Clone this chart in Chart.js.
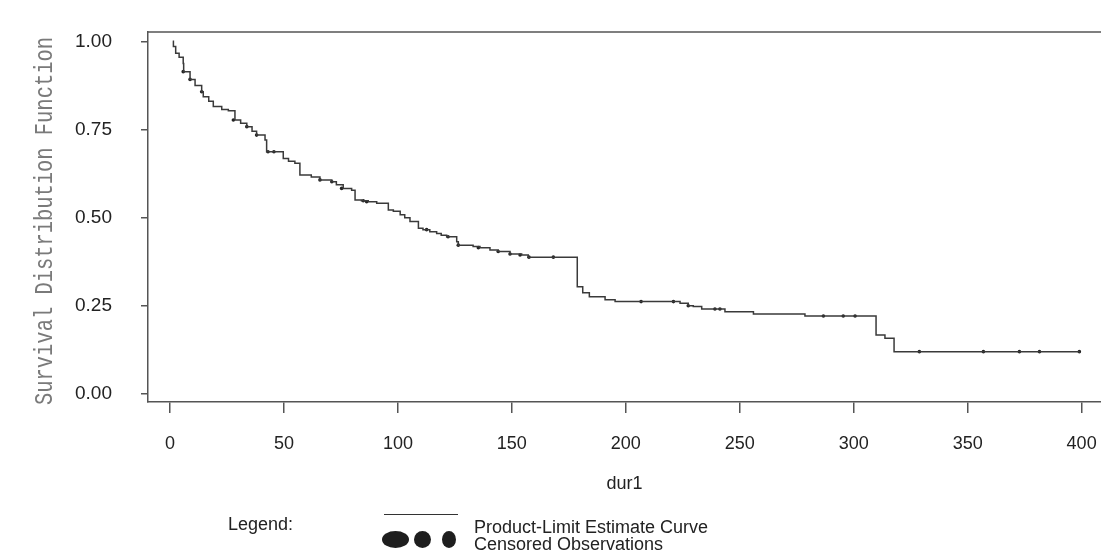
<!DOCTYPE html>
<html>
<head>
<meta charset="utf-8">
<title>Survival Distribution Function</title>
<script src="https://cdn.jsdelivr.net/npm/chart.js@4.4.1/dist/chart.umd.min.js"></script>
<style>
  html, body { margin: 0; padding: 0; background: #fff; }
  #wrap { position: relative; width: 1101px; height: 558px; overflow: hidden; }
  #km-chart { position: absolute; left: 0; top: 0; }
  .leg { position: absolute; font-family: "Liberation Sans", Arial, sans-serif; font-size: 18px; line-height: 18px; color: #222; white-space: nowrap; }
  .dot { position: absolute; background: #1e1e1e; border-radius: 50%; }
</style>
</head>
<body>
<div id="wrap">
  <canvas id="km-chart" width="1101" height="558"></canvas>

  <!-- legenda sotto il grafico -->
  <div class="leg" style="left:228px; top:515px;">Legend:</div>
  <div style="position:absolute; left:384px; top:514px; width:74px; border-top:1.5px solid #333;"></div>
  <div class="dot" style="left:382px; top:531px; width:27px; height:17px;"></div>
  <div class="dot" style="left:414px; top:531px; width:17px; height:17px;"></div>
  <div class="dot" style="left:442px; top:531px; width:14px; height:17px;"></div>
  <div class="leg" style="left:474px; top:518px;">Product-Limit Estimate Curve</div>
  <div class="leg" style="left:474px; top:535px;">Censored Observations</div>
</div>

<script>
// durata (dur1) e stima product-limit: a ogni tempo la curva scende al valore
var durations = [1.2, 1.5, 2.5, 4, 5.8, 6, 8.8, 11, 13.9, 14.6, 17, 19, 22.7, 25.6, 28.5, 31, 33.7, 36, 38, 41.7,
  42.4, 49.7, 52, 54.8, 57, 62, 65.8, 71, 73, 76, 79.7, 81.2, 84, 87, 90.7, 95.8, 98, 101, 103, 105.3, 109, 111,
  114, 117, 119, 121.4, 125.8, 126.5, 133, 136, 140.4, 144, 149.2, 154.3, 157.2, 178.7, 181.1, 184, 190.9, 195.3,
  223.8, 227.4, 229.6, 233.3, 243.5, 256, 278.6, 309.8, 313.7, 317.7, 399.3];
var survival = [1.0, 0.985, 0.966, 0.955, 0.937, 0.914, 0.892, 0.875, 0.857, 0.843, 0.83, 0.815, 0.807, 0.803, 0.777, 0.768, 0.758, 0.745, 0.734, 0.72,
  0.687, 0.668, 0.66, 0.654, 0.621, 0.615, 0.607, 0.602, 0.593, 0.583, 0.578, 0.55, 0.548, 0.545, 0.541, 0.522, 0.518, 0.508, 0.5, 0.489, 0.47, 0.466,
  0.46, 0.455, 0.45, 0.446, 0.432, 0.422, 0.418, 0.415, 0.408, 0.404, 0.397, 0.394, 0.388, 0.304, 0.287, 0.276, 0.267, 0.262,
  0.257, 0.25, 0.248, 0.241, 0.233, 0.227, 0.221, 0.167, 0.158, 0.12, 0.12];

// osservazioni censurate
var censoredTimes = [5.8, 8.8, 13.9, 27.8, 33.7, 38, 43, 45.6, 65.8, 71, 75.3, 84.8, 86.3, 112.6, 122, 126.5, 135.3, 144,
  149.2, 153.6, 157.5, 168.2, 206.7, 220.9, 227.4, 239.1, 241.3, 286.7, 295.4, 300.6, 328.8, 356.9, 372.7, 381.5, 399];
var censoredSurvival = [0.914, 0.892, 0.857, 0.777, 0.758, 0.734, 0.687, 0.687, 0.607, 0.602, 0.583, 0.548, 0.545, 0.466, 0.446, 0.422, 0.415, 0.404,
  0.397, 0.394, 0.388, 0.388, 0.262, 0.262, 0.25, 0.241, 0.241, 0.221, 0.221, 0.221, 0.12, 0.12, 0.12, 0.12, 0.12];

var xTicks = [0, 50, 100, 150, 200, 250, 300, 350, 400];
var yTicks = [0, 0.25, 0.5, 0.75, 1];

var curvePoints = [];
for (var i = 0; i < durations.length; i++) {
  curvePoints.push({ x: durations[i], y: survival[i] });
}
var censoredPoints = [];
for (var j = 0; j < censoredTimes.length; j++) {
  censoredPoints.push({ x: censoredTimes[j], y: censoredSurvival[j] });
}

var axisColor = '#555';
var labelFont = { family: "'Liberation Sans', Arial, sans-serif", size: 18 };

// bordo superiore del riquadro + titolo asse y (font stretto)
var frameAndTitle = {
  id: 'frameAndTitle',
  afterDraw: function (chart) {
    var c = chart.ctx;
    var a = chart.chartArea;
    c.save();
    c.strokeStyle = axisColor;
    c.lineWidth = 1.5;
    c.beginPath();
    c.moveTo(a.left, a.top);
    c.lineTo(a.right, a.top);
    c.stroke();

    c.translate(52, 221);
    c.rotate(-Math.PI / 2);
    c.scale(0.786, 1);
    c.font = "26px 'Liberation Mono', monospace";
    c.fillStyle = '#7a7a7a';
    c.textAlign = 'center';
    c.textBaseline = 'alphabetic';
    c.fillText('Survival Distribution Function', 0, 0);
    c.restore();
  }
};

var chart = new Chart(document.getElementById('km-chart'), {
  type: 'line',
  data: {
    datasets: [{
      label: 'Product-Limit Estimate Curve',
      data: curvePoints,
      stepped: true,
      borderColor: '#3a3a3a',
      borderWidth: 1.5,
      pointRadius: 0,
      fill: false
    }, {
      label: 'Censored Observations',
      data: censoredPoints,
      showLine: false,
      pointRadius: 1.8,
      pointBorderWidth: 0,
      pointBackgroundColor: '#222'
    }]
  },
  options: {
    responsive: false,
    animation: false,
    layout: { autoPadding: false, padding: { top: 32, left: 0, right: 0, bottom: 63 } },
    plugins: {
      legend: { display: false },
      tooltip: { enabled: false }
    },
    scales: {
      x: {
        type: 'linear',
        min: -9.65,
        max: 408.5,
        afterBuildTicks: function (scale) {
          scale.ticks = xTicks.map(function (v) { return { value: v }; });
        },
        afterFit: function (scale) {
          scale.height = 93;
          scale.paddingLeft = 0;
          scale.paddingRight = 0;
        },
        ticks: {
          autoSkip: false,
          maxRotation: 0,
          padding: 20,
          color: '#222',
          font: labelFont,
          callback: function (v) { return String(v); }
        },
        grid: { drawOnChartArea: false, drawTicks: true, tickLength: 11, color: axisColor, lineWidth: 1.5 },
        border: { display: true, color: axisColor, width: 1.5 },
        title: { display: true, text: 'dur1', color: '#222', font: labelFont, padding: 0 }
      },
      y: {
        min: -0.0227,
        max: 1.0264,
        afterBuildTicks: function (scale) {
          scale.ticks = yTicks.map(function (v) { return { value: v }; });
        },
        afterFit: function (scale) {
          scale.width = 148;
          scale.paddingTop = 0;
          scale.paddingBottom = 0;
        },
        ticks: {
          padding: 29,
          color: '#222',
          font: { family: "'Liberation Sans', Arial, sans-serif", size: 19 },
          callback: function (v) { return Number(v).toFixed(2); }
        },
        grid: { drawOnChartArea: false, drawTicks: true, tickLength: 7, color: axisColor, lineWidth: 1.5 },
        border: { display: true, color: axisColor, width: 1.5 }
      }
    }
  },
  plugins: [frameAndTitle]
});
</script>
</body>
</html>
